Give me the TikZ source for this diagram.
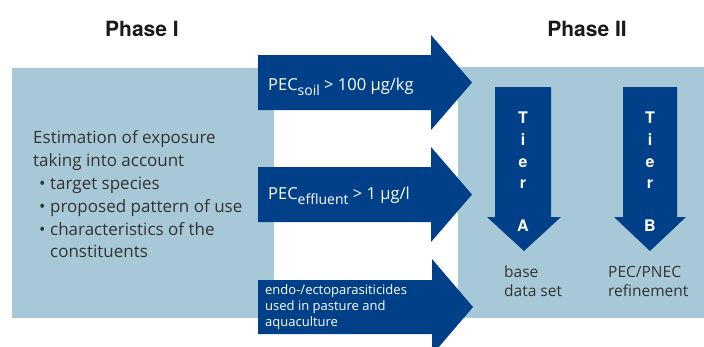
\documentclass[tikz,border=0pt]{standalone}
\usepackage{fontspec}
\setmainfont{Open Sans}
\newfontfamily\headfont{TeX Gyre Heros}
\definecolor{dblue}{HTML}{004088}
\definecolor{lblue}{HTML}{A7C9D7}
\definecolor{txtgray}{HTML}{333333}
\tikzset{
  panel/.style={fill=lblue},
  bigarrow/.style={fill=dblue},
  headtxt/.style={anchor=base, inner sep=0pt, font=\headfont\bfseries\fontsize{21}{24}\selectfont, text=black!90},
  bodytxt/.style={anchor=base west, inner sep=0pt, font=\fontsize{17}{20}\selectfont, text=txtgray},
  righttxt/.style={anchor=base west, inner sep=0pt, font=\fontsize{15.5}{20}\selectfont, text=txtgray},
  arrtxt/.style={anchor=base west, inner sep=0pt, font=\fontsize{16.5}{20}\selectfont, text=white},
  smalltxt/.style={anchor=base west, inner sep=0pt, font=\fontsize{13}{16}\selectfont, text=white},
  tiertxt/.style={anchor=base, inner sep=0pt, font=\headfont\bfseries\fontsize{16}{18}\selectfont, text=white},
}
\newcommand\subsc[1]{\raisebox{-5pt}{\fontsize{14}{14}\selectfont #1}}
\begin{document}
\begin{tikzpicture}[x=1pt,y=-1pt]
\useasboundingbox (0,0) rectangle (704,346);
\fill[white] (0,0) rectangle (704,346);
% panels
\fill[panel] (12,68) rectangle (274,318);
\fill[panel] (458,67) rectangle (704,318);
% big arrows
\fill[bigarrow] (258,55) -- (431,55) -- (431,35) -- (472,82.5) -- (431,130) -- (431,110) -- (258,110) -- cycle;
\fill[bigarrow] (258,167) -- (431,167) -- (431,147) -- (472,194.5) -- (431,242) -- (431,222) -- (258,222) -- cycle;
\fill[bigarrow] (258,280) -- (432,280) -- (432,259) -- (473,307) -- (432,355) -- (432,334) -- (258,334) -- cycle;
% tier arrows
\fill[bigarrow] (495,87) -- (551,87) -- (551,217) -- (561,217) -- (524,251) -- (487,217) -- (495,217) -- cycle;
\fill[bigarrow] (623,87) -- (677,87) -- (677,217) -- (686,217) -- (650,251) -- (614,217) -- (623,217) -- cycle;
% headings
\node[headtxt] (ph1) at (142,36) {Phase I};
\node[headtxt] (ph2) at (587,36) {Phase II};
% left text
\node[bodytxt] (l1) at (33,143) {Estimation of exposure};
\node[bodytxt] (l2) at (33,166) {taking into account};
\node[bodytxt] (b1) at (39,189) {•};
\node[bodytxt] (l3) at (50,189) {target species};
\node[bodytxt] (b2) at (39,212) {•};
\node[bodytxt] (l4) at (50,212) {proposed pattern of use};
\node[bodytxt] (b3) at (39,235) {•};
\node[bodytxt] (l5) at (50,235) {characteristics of the};
\node[bodytxt] (l6) at (50,257) {constituents};
% arrow texts
\node[arrtxt] (a1) at (268,90) {PEC\subsc{soil} > 100 µg/kg};
\node[arrtxt] (a2) at (268,199) {PEC\subsc{effluent} > 1 µg/l};
\node[smalltxt] (a3l1) at (265,294) {endo-/ectoparasiticides};
\node[smalltxt] (a3l2) at (265,310) {used in pasture and};
\node[smalltxt] (a3l3) at (265,326) {aquaculture};
% tier letters
\node[tiertxt] (ta1) at (523,123) {T};
\node[tiertxt] (ta2) at (523,145) {i};
\node[tiertxt] (ta3) at (523,167) {e};
\node[tiertxt] (ta4) at (523,188) {r};
\node[tiertxt] (ta5) at (523,231) {A};
\node[tiertxt] (tb1) at (650,123) {T};
\node[tiertxt] (tb2) at (650,145) {i};
\node[tiertxt] (tb3) at (650,167) {e};
\node[tiertxt] (tb4) at (650,188) {r};
\node[tiertxt] (tb5) at (650,231) {B};
% tier descriptions
\node[righttxt] (da1) at (504,277) {base};
\node[righttxt] (da2) at (504,296) {data set};
\node[righttxt] (db1) at (608,277) {PEC/PNEC};
\node[righttxt] (db2) at (608,296) {refinement};
\end{tikzpicture}
\end{document}
